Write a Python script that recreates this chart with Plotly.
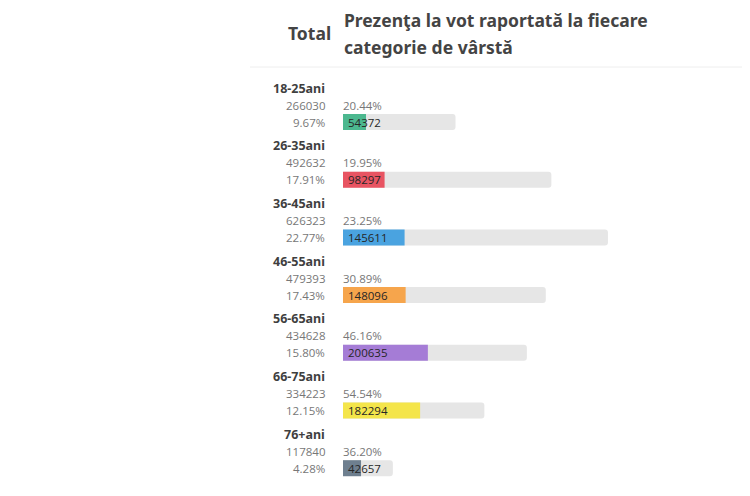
import plotly.graph_objects as go

# date: prezenta la vot pe categorii de varsta
categorii = ["18-25ani", "26-35ani", "36-45ani", "46-55ani", "56-65ani", "66-75ani", "76+ani"]
total = [266030, 492632, 626323, 479393, 434628, 334223, 117840]
pondere_total = ["9.67%", "17.91%", "22.77%", "17.43%", "15.80%", "12.15%", "4.28%"]
votanti = [54372, 98297, 145611, 148096, 200635, 182294, 42657]
prezenta = ["20.44%", "19.95%", "23.25%", "30.89%", "46.16%", "54.54%", "36.20%"]
culori = ["#4cb88f", "#e85462", "#4aa3e0", "#f6a54c", "#a57cd6", "#f4e54a", "#6e7f8f"]

W, H = 750, 496
off = 8            # page body margin in the browser
x0 = 343 - off     # pixel where the bars start
scala = 0.000423   # px per vote
latime = 400
pas = 57.7          # px between groups
y_primul = 122 - off  # centre of first bar, px

poz = list(range(len(categorii)))
y_sus = -y_primul / pas
y_jos = (H - y_primul) / pas

fig = go.Figure()

fig.add_trace(go.Bar(
    x=total, y=poz, orientation="h", width=16 / pas,
    marker=dict(color="#e6e6e6", cornerradius=3, line=dict(width=0)),
    hoverinfo="skip", showlegend=False,
))
fig.add_trace(go.Bar(
    x=votanti, y=poz, orientation="h", width=16 / pas,
    marker=dict(color=culori, cornerradius=3, line=dict(width=0)),
    hoverinfo="skip", showlegend=False,
))

font_nr = dict(family="Open Sans", size=11.5, color="#777777")
adnotari = []
for i in poz:
    adnotari.append(dict(
        x=0, y=i - 34 / pas, xref="x", yref="y", text="<b>" + categorii[i] + "</b>",
        xanchor="right", yanchor="middle", xshift=-16, showarrow=False,
        font=dict(family="Noto Sans", size=12.5, color="#3f3f3f"),
    ))
    adnotari.append(dict(
        x=0, y=i - 17 / pas, xref="x", yref="y", text=str(total[i]),
        xanchor="right", yanchor="middle", xshift=-16, showarrow=False, font=font_nr,
    ))
    adnotari.append(dict(
        x=0, y=i, xref="x", yref="y", text=pondere_total[i],
        xanchor="right", yanchor="middle", xshift=-16, showarrow=False, font=font_nr,
    ))
    adnotari.append(dict(
        x=0, y=i - 17 / pas, xref="x", yref="y", text=prezenta[i],
        xanchor="left", yanchor="middle", xshift=-2, showarrow=False, font=font_nr,
    ))
    # number of voters, drawn over the bar
    adnotari.append(dict(
        x=0, y=i, xref="x", yref="y", text=str(votanti[i]),
        xanchor="left", yanchor="middle", xshift=3, showarrow=False,
        font=dict(family="Open Sans", size=11.5, color="#262626"),
    ))

# header
font_titlu = dict(family="Noto Sans", size=17.5, color="#444444")
adnotari.append(dict(
    x=(333 - 343) / latime, y=1 - (33 - off) / H, xref="paper", yref="paper",
    text="<b>Total</b>", xanchor="right", yanchor="middle", showarrow=False,
    font=font_titlu,
))
adnotari.append(dict(
    x=(342 - 343) / latime, y=1 - (20 - off) / H, xref="paper", yref="paper",
    text="<b>Prezenţa la vot raportată la fiecare</b>",
    xanchor="left", yanchor="middle", showarrow=False, font=font_titlu,
))
adnotari.append(dict(
    x=(342 - 343) / latime, y=1 - (47 - off) / H, xref="paper", yref="paper",
    text="<b>categorie de vârstă</b>",
    xanchor="left", yanchor="middle", showarrow=False, font=font_titlu,
))

fig.update_layout(
    width=W, height=H,
    margin=dict(l=x0, r=W - x0 - latime, t=0, b=0),
    paper_bgcolor="white", plot_bgcolor="white",
    barmode="overlay",
    xaxis=dict(range=[0, latime / scala], visible=False, fixedrange=True),
    yaxis=dict(range=[y_jos, y_sus], visible=False, fixedrange=True),
    annotations=adnotari,
    shapes=[dict(
        type="line", xref="paper", yref="paper",
        x0=(250 - 343) / latime, x1=1, y0=1 - (67 - off) / H, y1=1 - (67 - off) / H,
        line=dict(color="#eeeeee", width=1),
    )],
)

fig.write_html("out.html", config={"displayModeBar": False})
